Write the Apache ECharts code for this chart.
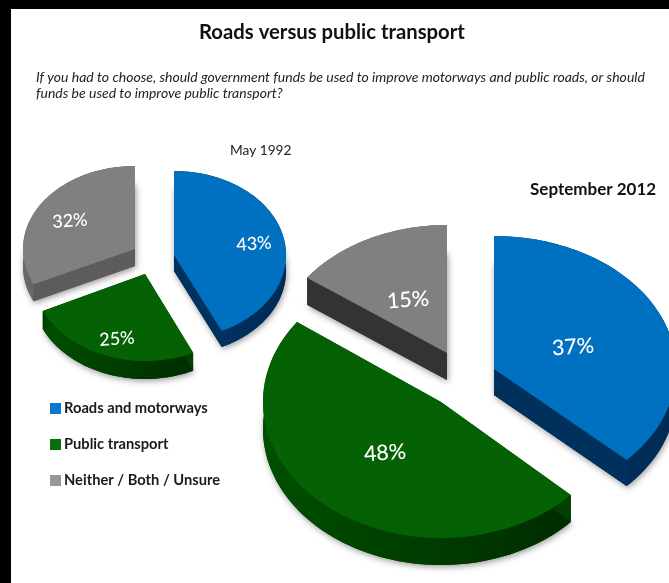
<!DOCTYPE html>
<html><head><meta charset="utf-8">
<style>html,body{margin:0;padding:0;background:#000}#c{width:669px;height:583px}</style>
<script src="https://cdn.jsdelivr.net/npm/echarts@6/dist/echarts.min.js"></script>
</head><body><div id="c"></div>
<script>
const categories = ['Roads and motorways', 'Public transport', 'Neither / Both / Unsure'];
const periods = ['May 1992', 'September 2012'];
const may1992 = [43, 25, 32];
const september2012 = [37, 48, 15];

const pies = [may1992, september2012];
const FONT = 'Lato, "Open Sans", sans-serif';
const legendColors = ['#0b78cf', '#0a6e0a', '#979797'];
const faceColors = ['#0070c0', '#046204', '#808080'];
const wallColors = [['#00376b', '#002a52'], ['#004f00', '#002c00'], ['#6a6a6a', '#4c4c4c']];
// slice placement [pie][category]
const layout = [
  [
    { cx: 174, cy: 255, rx: 112, ry: 84, d: 16, lx: 254, ly: 244, fs: 18, radial: '#00315f' },
    { cx: 145, cy: 274, rx: 113, ry: 87, d: 18, lx: 117, ly: 339, fs: 18, radial: '#004000' },
    { cx: 135, cy: 249, rx: 112, ry: 83, d: 17, lx: 70, ly: 221, fs: 18, radial: '#5c5c5c' }
  ],
  [
    { cx: 494, cy: 369, rx: 182, ry: 133, d: 26, lx: 573, ly: 347, fs: 21.5, radial: '#00305c' },
    { cx: 441, cy: 402, rx: 178, ry: 136, d: 27, lx: 385, ly: 453, fs: 21.5, radial: '#004000' },
    { cx: 447, cy: 353, rx: 173, ry: 128, d: 27, lx: 408, ly: 300, fs: 21.5, radial: '#333333' }
  ]
];

function renderSlice(cat) {
  return function (params, api) {
    const p = api.value(0);
    const vals = pies[p];
    const L = layout[p][cat];
    let before = 0;
    for (let i = 0; i < cat; i++) before += vals[i];
    const total = vals.reduce((a, b) => a + b, 0);
    const a0 = before / total * 2 * Math.PI;
    const a1 = (before + api.value(1)) / total * 2 * Math.PI;
    const arc = [];
    const n = 80;
    for (let i = 0; i <= n; i++) {
      const a = a0 + (a1 - a0) * i / n;
      arc.push([L.cx + L.rx * Math.sin(a), L.cy - L.ry * Math.cos(a)]);
    }
    const shift = q => [q[0], q[1] + L.d];
    const apex = [L.cx, L.cy];
    const top = [apex].concat(arc);
    const band = arc.concat(arc.map(shift).reverse());
    const first = arc[0], last = arc[n];
    const grad = new echarts.graphic.LinearGradient(0, 0, 1, 0, [
      { offset: 0, color: wallColors[cat][0] }, { offset: 1, color: wallColors[cat][1] }
    ]);
    return {
      type: 'group',
      children: [
        { type: 'polygon', shape: { points: top.map(shift) },
          style: { fill: L.radial, shadowBlur: 6, shadowColor: 'rgba(0,0,0,0.4)', shadowOffsetX: 1, shadowOffsetY: 2 } },
        { type: 'polygon', shape: { points: band }, style: { fill: grad } },
        { type: 'polygon', shape: { points: [apex, first, shift(first), shift(apex)] }, style: { fill: L.radial } },
        { type: 'polygon', shape: { points: [apex, last, shift(last), shift(apex)] }, style: { fill: L.radial } },
        { type: 'polygon', shape: { points: top }, style: { fill: faceColors[cat] } },
        { type: 'text', x: L.lx, y: L.ly, rotation: 0.07,
          style: { text: api.value(1) + '%', fill: '#fff', font: '500 ' + L.fs + 'px ' + FONT, align: 'center', verticalAlign: 'middle' } }
      ]
    };
  };
}

const chart = echarts.init(document.getElementById('c'), null, { renderer: 'canvas' });
chart.setOption({
  animation: false,
  backgroundColor: '#000',
  graphic: [{ type: 'rect', z: -10, shape: { x: 11, y: 9, width: 660, height: 576 }, style: { fill: '#fff' } }],
  title: [
    { text: 'Roads versus public transport', left: 199, top: 22, textStyle: { fontFamily: FONT, fontSize: 20.3, fontWeight: 'bold', color: '#111' }, padding: 0 },
    { text: 'If you had to choose, should government funds be used to improve motorways and public roads, or should\nfunds be used to improve public transport?', left: 36, top: 69, padding: 0,
      textStyle: { fontFamily: FONT, fontSize: 14, fontStyle: 'italic', fontWeight: 'normal', color: '#222', lineHeight: 16 } },
    { text: periods[0], left: 230, top: 144, padding: 0, textStyle: { fontFamily: FONT, fontSize: 13.7, fontWeight: 'normal', color: '#222' } },
    { text: periods[1], left: 530, top: 181, padding: 0, textStyle: { fontFamily: FONT, fontSize: 17, fontWeight: 'bold', color: '#111' } }
  ],
  legend: {
    orient: 'vertical', left: 50, top: 401, itemWidth: 11, itemHeight: 11, itemGap: 21, padding: 0,
    selectedMode: false, icon: 'rect',
    data: categories,
    textStyle: { fontFamily: FONT, fontSize: 14.7, fontWeight: 'bold', color: '#1a1a1a', padding: [0, 0, 0, -2] }
  },
  series: categories.map((name, c) => ({
    type: 'custom', name, coordinateSystem: 'none', clip: false,
    itemStyle: { color: legendColors[c] },
    renderItem: renderSlice(c),
    data: pies.map((vals, p) => [p, vals[c]])
  }))
});
</script></body></html>
